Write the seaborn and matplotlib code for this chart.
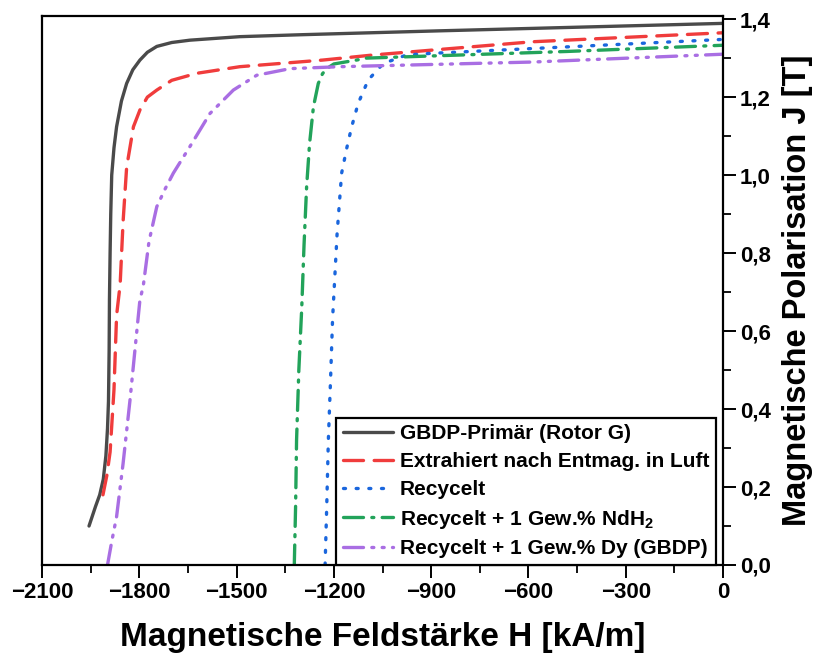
import matplotlib
matplotlib.use("Agg")
import matplotlib.pyplot as plt
import seaborn as sns
import numpy as np
import pandas as pd
from matplotlib.ticker import MultipleLocator, FuncFormatter

# ---- data ----
labels = ["GBDP-Primär (Rotor G)",
          "Extrahiert nach Entmag. in Luft",
          "Recycelt",
          r"Recycelt + 1 Gew.% NdH$_2$",
          "Recycelt + 1 Gew.% Dy (GBDP)"]

H_black = [-1955, -1945, -1935, -1922, -1911, -1903, -1898, -1895, -1893, -1892, -1890, -1888,
           -1885, -1878, -1870, -1855, -1839, -1820, -1798, -1775, -1746, -1700, -1644,
           -1490, -1300, -873, -4, 0]
J_black = [0.10, 0.125, 0.15, 0.18, 0.22, 0.28, 0.35, 0.42, 0.55, 0.68, 0.80, 0.90,
           1.00, 1.07, 1.124, 1.19, 1.235, 1.27, 1.295, 1.315, 1.33, 1.34, 1.346,
           1.355, 1.36, 1.37, 1.389, 1.39]

H_red = [-1912, -1900, -1890, -1878, -1870, -1859, -1850, -1839, -1818, -1798, -1775, -1746,
         -1700, -1623, -1490, -1234, -1079, -586, 0]
J_red = [0.18, 0.23, 0.29, 0.45, 0.64, 0.72, 0.88, 1.02, 1.124, 1.167, 1.20, 1.218,
         1.243, 1.261, 1.278, 1.295, 1.308, 1.342, 1.365]

H_blue = [-1227, -1222, -1217, -1210, -1204, -1190, -1176, -1160, -1145, -1125, -1094, -1048,
          -976, -904, -451, 0]
J_blue = [0.0, 0.15, 0.32, 0.48, 0.63, 0.85, 1.005, 1.07, 1.124, 1.184, 1.244, 1.286,
          1.308, 1.312, 1.33, 1.348]

H_green = [-1322, -1318, -1315, -1308, -1299, -1292, -1284, -1275, -1263, -1248, -1235, -1222,
           -1200, -1130, -1099, -483, 0]
J_green = [0.0, 0.15, 0.32, 0.50, 0.66, 0.82, 0.97, 1.08, 1.175, 1.235, 1.26, 1.273,
           1.285, 1.295, 1.30, 1.317, 1.333]

H_purple = [-1898, -1885, -1870, -1850, -1829, -1810, -1798, -1788, -1770, -1746, -1720, -1695,
            -1644, -1582, -1510, -1438, -1335, -1181, -585, 0]
J_purple = [0.0, 0.06, 0.124, 0.26, 0.42, 0.58, 0.68, 0.714, 0.83, 0.919, 0.965, 1.005,
            1.073, 1.158, 1.218, 1.256, 1.273, 1.278, 1.29, 1.31]

series_H = [H_black, H_red, H_blue, H_green, H_purple]
series_J = [J_black, J_red, J_blue, J_green, J_purple]
colors = ["#4a4a4a", "#f03c3c", "#1a66dd", "#22a35a", "#a96ee3"]
styles = ["-", (0, (6, 3.2)), (0, (0.6, 3.2)), (0, (6, 2.5, 0.6, 2.5)),
          (0, (6, 2.5, 0.6, 2.5, 0.6, 2.5))]

sns.set_theme(style="ticks")
plt.rcParams["font.family"] = ["Liberation Sans", "DejaVu Sans"]
plt.rcParams["font.weight"] = "bold"
plt.rcParams["text.color"] = "black"
plt.rcParams["axes.labelcolor"] = "black"
plt.rcParams["xtick.color"] = "black"
plt.rcParams["ytick.color"] = "black"
plt.rcParams["mathtext.fontset"] = "custom"
plt.rcParams["mathtext.rm"] = "Liberation Sans:bold"
plt.rcParams["mathtext.it"] = "Liberation Sans:bold"
plt.rcParams["mathtext.bf"] = "Liberation Sans:bold"

fig = plt.figure(figsize=(8.17, 6.57), dpi=100)
ax = fig.add_axes([42 / 817, 1 - 565 / 657, (723 - 42) / 817, (565 - 16) / 657])

for H, J, c, ls, lab in zip(series_H, series_J, colors, styles, labels):
    df = pd.DataFrame({"H": H, "J": J})
    sns.lineplot(data=df, x="H", y="J", sort=False, ax=ax, color=c, linestyle=ls,
                 linewidth=2.4, label=lab, dash_capstyle="round", solid_capstyle="round")

ax.set_xlim(-2100, 0)
ax.set_ylim(0, 1.408)
ax.xaxis.set_major_locator(MultipleLocator(300))
ax.xaxis.set_minor_locator(MultipleLocator(150))
ax.yaxis.set_major_locator(MultipleLocator(0.2))
ax.yaxis.set_minor_locator(MultipleLocator(0.1))
ax.yaxis.set_major_formatter(FuncFormatter(lambda v, p: f"{v:.1f}".replace(".", ",")))
ax.xaxis.set_major_formatter(FuncFormatter(lambda v, p: f"{int(round(v))}".replace("-", "\u2212")))

ax.yaxis.tick_right()
ax.yaxis.set_label_position("right")
ax.tick_params(axis="both", which="major", direction="out", length=9, width=1.4,
               labelsize=16, labelcolor="black", color="black", pad=3)
ax.tick_params(axis="both", which="minor", direction="out", length=6, width=1.3, color="black")
ax.tick_params(axis="y", which="both", left=False, right=True)
for lab in ax.get_xticklabels() + ax.get_yticklabels():
    lab.set_fontweight("bold")

for sp in ax.spines.values():
    sp.set_visible(True)
    sp.set_linewidth(1.6)
    sp.set_color("black")

ax.set_xlabel("Magnetische Feldstärke H [kA/m]", fontsize=24, fontweight="bold",
              labelpad=14, color="black")
ax.set_ylabel("Magnetische Polarisation J [T]", fontsize=23.5, fontweight="bold",
              labelpad=8, color="black")

leg = ax.legend(loc="lower right", bbox_to_anchor=(0.99, 0.0), frameon=True, fancybox=False,
                edgecolor="black", framealpha=1.0, fontsize=15, handlelength=2.4,
                borderpad=0.32, labelspacing=0.42, handletextpad=0.35, borderaxespad=0.0)
leg.get_frame().set_linewidth(1.6)
for t in leg.get_texts():
    t.set_fontweight("bold")
    t.set_color("black")

fig.savefig("out.png", dpi=100)
